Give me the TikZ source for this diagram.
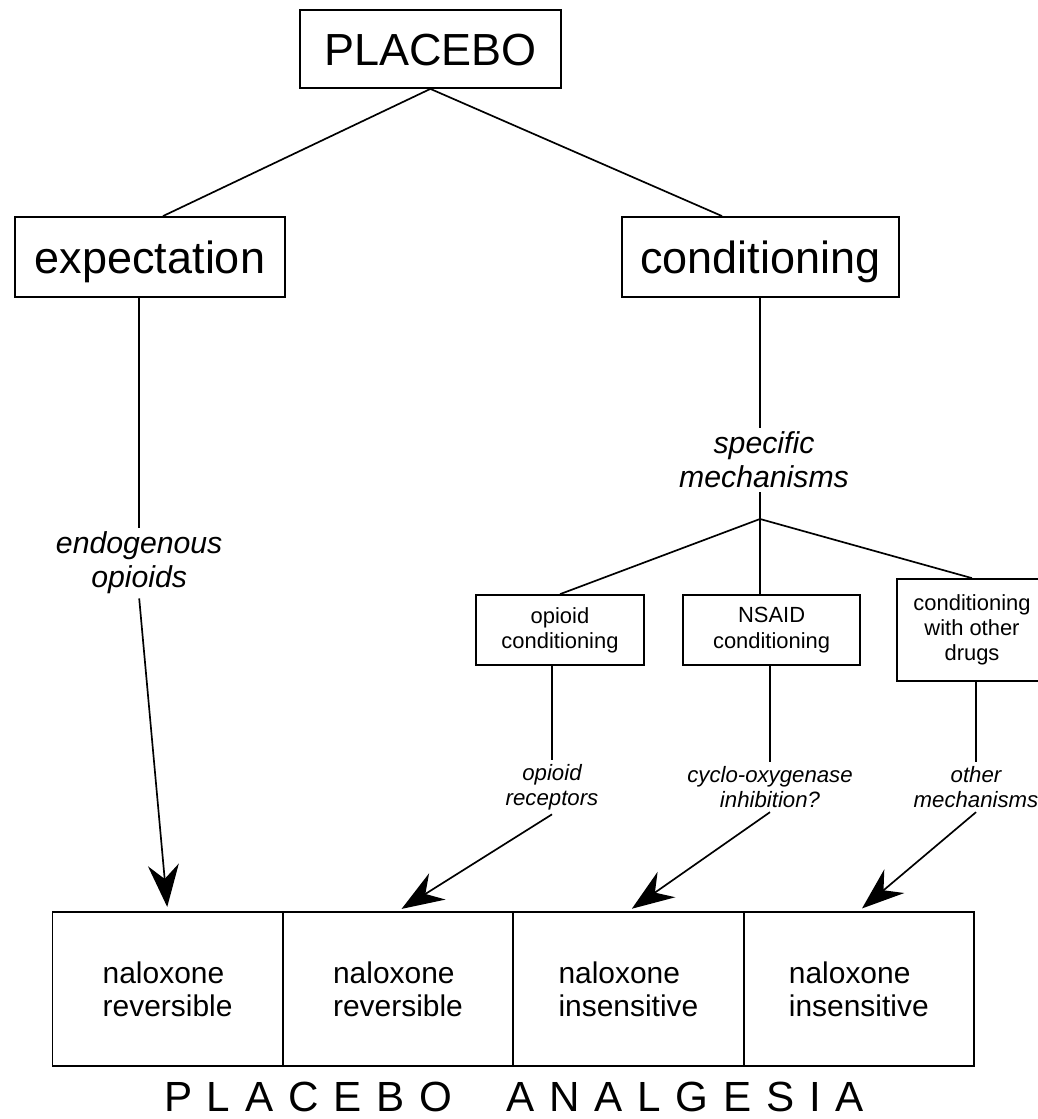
\documentclass[tikz,border=0pt]{standalone}
\usepackage{fontspec}
\setmainfont{Liberation Sans}
\usetikzlibrary{arrows.meta}

\begin{document}
\begin{tikzpicture}[
		bigbox/.style={draw=black,line width=1.3pt,inner sep=0pt,font=\fontsize{32}{36}\selectfont,text height=23pt,text depth=0pt},
		smallbox/.style={draw=black,line width=1.2pt,inner sep=0pt,align=center,font=\fontsize{15.6}{18}\selectfont},
		cell/.style={draw=black,line width=1.2pt,inner sep=0pt,align=left,minimum width=5.7625cm,minimum height=3.85cm,font=\fontsize{21.3}{23.5}\selectfont},
		mech/.style={align=center,inner sep=3pt,font=\fontsize{21.5}{24}\selectfont\itshape},
		submech/.style={align=center,inner sep=3pt,font=\fontsize{15.8}{17.8}\selectfont\itshape},
		link/.style={draw=black,line width=1.2pt},
		arrowlink/.style={draw=black,line width=1.2pt,-{Stealth[length=30pt,width=22pt,inset=10pt]},shorten >=3pt}
	]
		\useasboundingbox (0,0) rectangle (25.925,27.975);

		\node[bigbox,minimum width=6.525cm,minimum height=1.95cm] (placebo) at (10.76,26.75) {PLACEBO};
		\node[bigbox,minimum width=6.75cm,minimum height=2cm] (expect) at (3.75,21.55) {expectation};
		\node[bigbox,minimum width=6.925cm,minimum height=2cm] (cond) at (19.01,21.55) {conditioning};

		\node[mech] (endo) at (3.48,13.9) {endogenous\\opioids};
		\node[mech] (spec) at (19.1,16.475) {specific\\mechanisms};
		\coordinate (junc) at (19.0,15.0);

		\node[smallbox,minimum width=4.2cm,minimum height=1.75cm] (opcond) at (14.0,12.225) {opioid\\conditioning};
		\node[smallbox,minimum width=4.425cm,minimum height=1.75cm] (nsaid) at (19.29,12.225) {NSAID\\conditioning};
		\node[smallbox,minimum width=3.75cm,minimum height=2.55cm] (othcond) at (24.3,12.225) {conditioning\\with other\\drugs};

		\node[submech] (oprec) at (13.8,8.3) {opioid\\receptors};
		\node[submech] (cox) at (19.25,8.3) {cyclo-oxygenase\\inhibition?};
		\node[submech] (othmech) at (24.4,8.3) {other\\mechanisms};

		\node[cell] (rev1) at (4.19,3.25) {naloxone\\reversible};
		\node[cell] (rev2) at (9.95,3.25) {naloxone\\reversible};
		\node[cell] (ins1) at (15.71,3.25) {naloxone\\insensitive};
		\node[cell] (ins2) at (21.47,3.25) {naloxone\\insensitive};

		\node[font=\fontsize{30}{34}\selectfont\addfontfeature{LetterSpace=35}] (analgesia) at (12.85,0.56) {PLACEBO\hspace{1.3em}ANALGESIA};

		\draw[link] (placebo.south) -- ([xshift=0.325cm]expect.north);
		\draw[link] (placebo.south) -- ([xshift=-0.96cm]cond.north);

		\draw[link] (endo.north |- expect.south) -- (endo.north);
		\draw[link] (junc |- cond.south) -- (junc |- spec.north);
		\draw[link] (junc |- spec.south) -- (junc);

		\draw[link] (junc) -- (opcond.north);
		\draw[link] (junc) -- (junc |- nsaid.north);
		\draw[link] (junc) -- (othcond.north);

		\draw[link] (oprec.north |- opcond.south) -- (oprec.north);
		\draw[link] (cox.north |- nsaid.south) -- (cox.north);
		\draw[link] (othmech.north |- othcond.south) -- (othmech.north);

		\draw[arrowlink] (endo.south) -- (rev1.north);
		\draw[arrowlink] (oprec.south) -- (rev2.north);
		\draw[arrowlink] (cox.south) -- (ins1.north);
		\draw[arrowlink] (othmech.south) -- (ins2.north);

\end{tikzpicture}
\end{document}
